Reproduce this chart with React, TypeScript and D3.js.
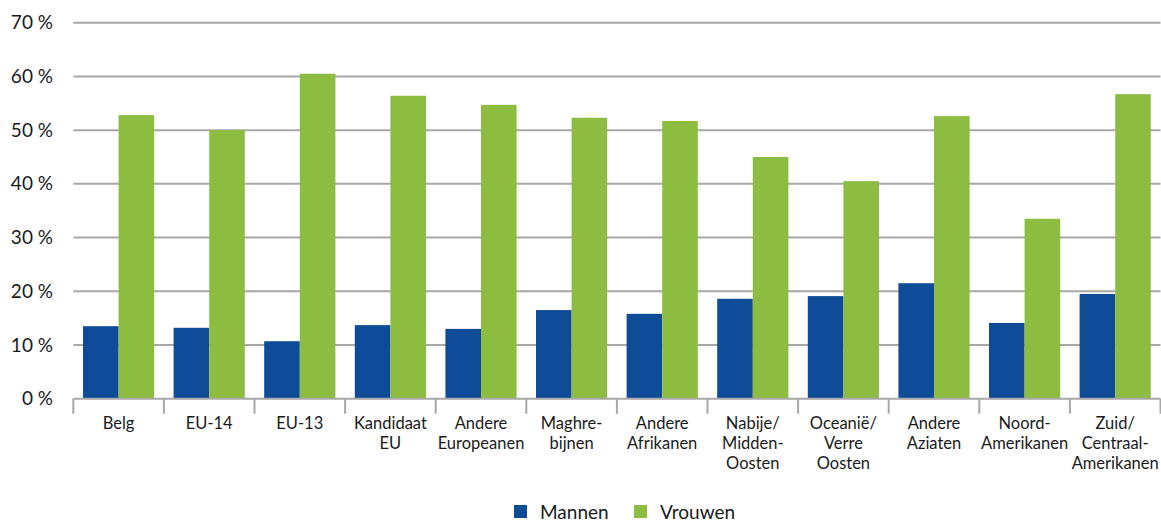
import React from "react";
import * as d3 from "d3";

const categories: string[][] = [
  ["Belg"],
  ["EU-14"],
  ["EU-13"],
  ["Kandidaat", "EU"],
  ["Andere", "Europeanen"],
  ["Maghre-", "bijnen"],
  ["Andere", "Afrikanen"],
  ["Nabije/", "Midden-", "Oosten"],
  ["Oceanië/", "Verre", "Oosten"],
  ["Andere", "Aziaten"],
  ["Noord-", "Amerikanen"],
  ["Zuid/", "Centraal-", "Amerikanen"],
];
const mannen = [13.5, 13.2, 10.7, 13.7, 13.0, 16.5, 15.8, 18.6, 19.1, 21.5, 14.1, 19.5];
const vrouwen = [52.8, 50.0, 60.5, 56.4, 54.7, 52.3, 51.7, 45.0, 40.5, 52.6, 33.5, 56.7];
const seriesNames = ["Mannen", "Vrouwen"];
const colors = ["#0F4C97", "#8CBD40"];
const yTicks = [0, 10, 20, 30, 40, 50, 60, 70];

const W = 1161;
const H = 523;
const left = 73.3;
const right = 1160.5;
const y0 = 398.7;
const yTop = 22.7;
const font = "Lato, 'Open Sans', sans-serif";

export default function App() {
  const keys = categories.map((_, i) => String(i));
  const x = d3.scaleBand<string>().domain(keys).range([left, right]).paddingInner(0).paddingOuter(0);
  const bw = x.bandwidth();
  const inner = d3.scaleBand<string>().domain(seriesNames).range([9.7, bw - 9.7]).padding(0);
  const y = d3.scaleLinear().domain([0, 70]).range([y0, yTop]);
  const data = [mannen, vrouwen];

  return (
    <svg width={W} height={H} style={{ position: "absolute", left: 0, top: 0 }}>
      <rect width={W} height={H} fill="#fff" />
      {yTicks.map((t) => (
        <g key={t}>
          {t > 0 && (
            <line x1={left} x2={right} y1={y(t)} y2={y(t)} stroke="#a8a8a8" strokeWidth={2} />
          )}
          <text
            x={53}
            y={y(t)}
            dy="0.35em"
            textAnchor="end"
            fontFamily={font}
            fontSize={19}
            fill="#1a1a1a"
          >
            {t} %
          </text>
        </g>
      ))}
      {keys.map((k, i) =>
        seriesNames.map((s, j) => (
          <rect
            key={k + s}
            x={(x(k) as number) + (inner(s) as number)}
            y={y(data[j][i])}
            width={inner.bandwidth()}
            height={y0 - y(data[j][i])}
            fill={colors[j]}
          />
        ))
      )}
      <line x1={left} x2={right} y1={y0} y2={y0} stroke="#a8a8a8" strokeWidth={2} />
      {[...keys.map((k) => x(k) as number), right].map((tx, i) => (
        <line key={"t" + i} x1={tx} x2={tx} y1={y0} y2={y0 + 15} stroke="#a8a8a8" strokeWidth={2} />
      ))}
      {categories.map((lines, i) => (
        <text
          key={"c" + i}
          x={(x(String(i)) as number) + bw / 2}
          y={423}
          textAnchor="middle"
          fontFamily={font}
          fontSize={16.5}
          fill="#1a1a1a"
        >
          {lines.map((l, li) => (
            <tspan key={li} x={(x(String(i)) as number) + bw / 2} y={423 + li * 20} dy="0.35em">
              {l}
            </tspan>
          ))}
        </text>
      ))}
      {seriesNames.map((s, j) => {
        const lx = [514, 634][j];
        return (
          <g key={s}>
            <rect x={lx} y={505} width={13} height={13} fill={colors[j]} />
            <text x={lx + 26} y={512} dy="0.35em" fontFamily={font} fontSize={19} fill="#1a1a1a">
              {s}
            </text>
          </g>
        );
      })}
    </svg>
  );
}
